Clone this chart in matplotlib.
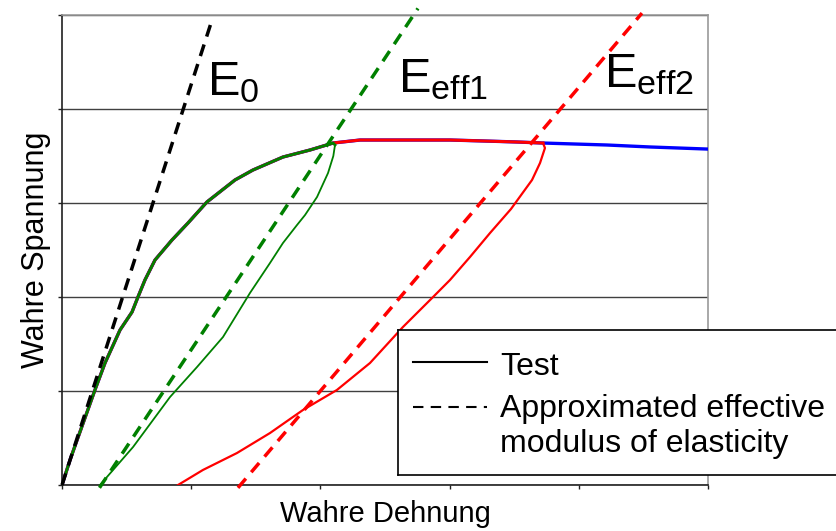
import matplotlib
matplotlib.use("Agg")
import matplotlib.pyplot as plt

plt.rcParams['font.family'] = ['Liberation Sans', 'DejaVu Sans']
plt.rcParams['mathtext.default'] = 'regular'
plt.rcParams['lines.solid_joinstyle'] = 'round'

# monotonic loading curve (true strain / true stress, arbitrary units)
strain_main = [0.0, 0.062, 0.139, 0.255, 0.333, 0.449, 0.542, 0.588, 0.642, 0.720,
               0.851, 0.975, 1.122, 1.339, 1.478, 1.710, 1.920, 2.098, 2.307, 3.003,
               3.259, 3.522, 3.723, 4.218, 4.551, 4.992]
stress_main = [0.0, 0.266, 0.564, 1.011, 1.298, 1.649, 1.840, 2.000, 2.181, 2.394,
               2.606, 2.787, 3.011, 3.245, 3.351, 3.489, 3.564, 3.638, 3.670, 3.670,
               3.660, 3.649, 3.638, 3.617, 3.596, 3.574]

# first unloading (green), starts where loading stopped
unload1_at = 2.11
strain_unload1 = [2.113, 2.100, 2.059, 1.974, 1.881, 1.819, 1.710, 1.610, 1.455,
                  1.246, 1.045, 0.836, 0.550, 0.294]
stress_unload1 = [3.617, 3.500, 3.319, 3.064, 2.872, 2.766, 2.574, 2.362, 2.043,
                  1.574, 1.255, 0.936, 0.404, 0.0]

# second unloading (red)
unload2_at = 3.73
strain_unload2 = [3.723, 3.738, 3.700, 3.638, 3.475, 3.313, 3.158, 3.003, 2.872,
                  2.639, 2.384, 2.128, 1.865, 1.610, 1.354, 1.091, 0.898]
stress_unload2 = [3.638, 3.585, 3.426, 3.245, 2.936, 2.681, 2.426, 2.181, 2.000,
                  1.681, 1.298, 1.011, 0.798, 0.553, 0.340, 0.160, 0.0]

# fitted moduli lines: (strain, stress) end points
e0_strain, e0_stress = [0.0, 1.161], [0.0, 4.947]
eff1_strain, eff1_stress = [0.29, 2.755], [-0.03, 5.07]
eff2_strain, eff2_stress = [1.362, 4.489], [-0.03, 5.02]

fig = plt.figure(figsize=(8.37, 5.31), dpi=100)
ax = fig.add_axes([62 / 837, 46 / 531, 646 / 837, 470 / 531])

ax.set_xlim(0, 5)
ax.set_ylim(0, 5)
ax.set_xticks(range(6))
ax.set_yticks(range(6))
ax.tick_params(direction='out', length=3, width=1, color='#202020',
               labelleft=False, labelbottom=False)
ax.yaxis.grid(True, color='#404040', lw=1)
ax.set_axisbelow(True)
for side in ('left', 'bottom'):
    ax.spines[side].set_color('#202020')
    ax.spines[side].set_linewidth(1.2)
for side in ('top', 'right'):
    ax.spines[side].set_color('#999999')
    ax.spines[side].set_linewidth(1.2)

# test curves
ax.plot(strain_main, stress_main, color='#0000ff', lw=2.4, zorder=3)

m2 = [i for i, s in enumerate(strain_main) if s <= unload2_at]
ax.plot([strain_main[i] for i in m2] + [strain_unload2[0]],
        [stress_main[i] for i in m2] + [stress_unload2[0]],
        color='#ff0000', lw=2.2, zorder=4)
ax.plot(strain_unload2, stress_unload2, color='#ff0000', lw=1.6, zorder=4)

m1 = [i for i, s in enumerate(strain_main) if s <= unload1_at]
ax.plot([strain_main[i] for i in m1] + [strain_unload1[0]],
        [stress_main[i] for i in m1] + [stress_unload1[0]],
        color='#008000', lw=2.0, zorder=5)
ax.plot(strain_unload1, stress_unload1, color='#008000', lw=1.3, zorder=5)

# approximated moduli
dash = (0, (3.5, 2.4))
ax.plot(e0_strain, e0_stress, color='black', lw=2.5, ls=dash, clip_on=False, zorder=6)
ax.plot(eff1_strain, eff1_stress, color='#008000', lw=2.5, ls=dash, clip_on=False, zorder=6)
ax.plot(eff2_strain, eff2_stress, color='#ff0000', lw=2.5, ls=dash, clip_on=False, zorder=6)

ax.text(1.122, 4.15, r'$E_0$', fontsize=35, va='baseline', zorder=7)
ax.text(2.60, 4.18, r'$E_{eff1}$', fontsize=35, va='baseline', zorder=7)
ax.text(4.195, 4.23, r'$E_{eff2}$', fontsize=35, va='baseline', zorder=7)

ax.set_xlabel('Wahre Dehnung', fontsize=21, labelpad=8)
ax.set_ylabel('Wahre Spannung', fontsize=22, labelpad=5)

# legend box
lax = fig.add_axes([398 / 837, 56 / 531, 439 / 837, 145 / 531])
lax.set_xlim(0, 1)
lax.set_ylim(0, 1)
lax.set_xticks([])
lax.set_yticks([])
lax.spines['right'].set_visible(False)
for side in ('left', 'top', 'bottom'):
    lax.spines[side].set_linewidth(1.2)
lax.plot([0.034, 0.203], [0.779, 0.779], color='black', lw=1.5)
lax.plot([0.034, 0.203], [0.469, 0.469], color='black', lw=1.5, ls=(0, (5, 3.5)))
lax.text(0.232, 0.690, 'Test', fontsize=23, va='baseline')
lax.text(0.232, 0.402, 'Approximated effective', fontsize=23, va='baseline')
lax.text(0.232, 0.161, 'modulus of elasticity', fontsize=23, va='baseline')

fig.savefig('out.png', dpi=100)
